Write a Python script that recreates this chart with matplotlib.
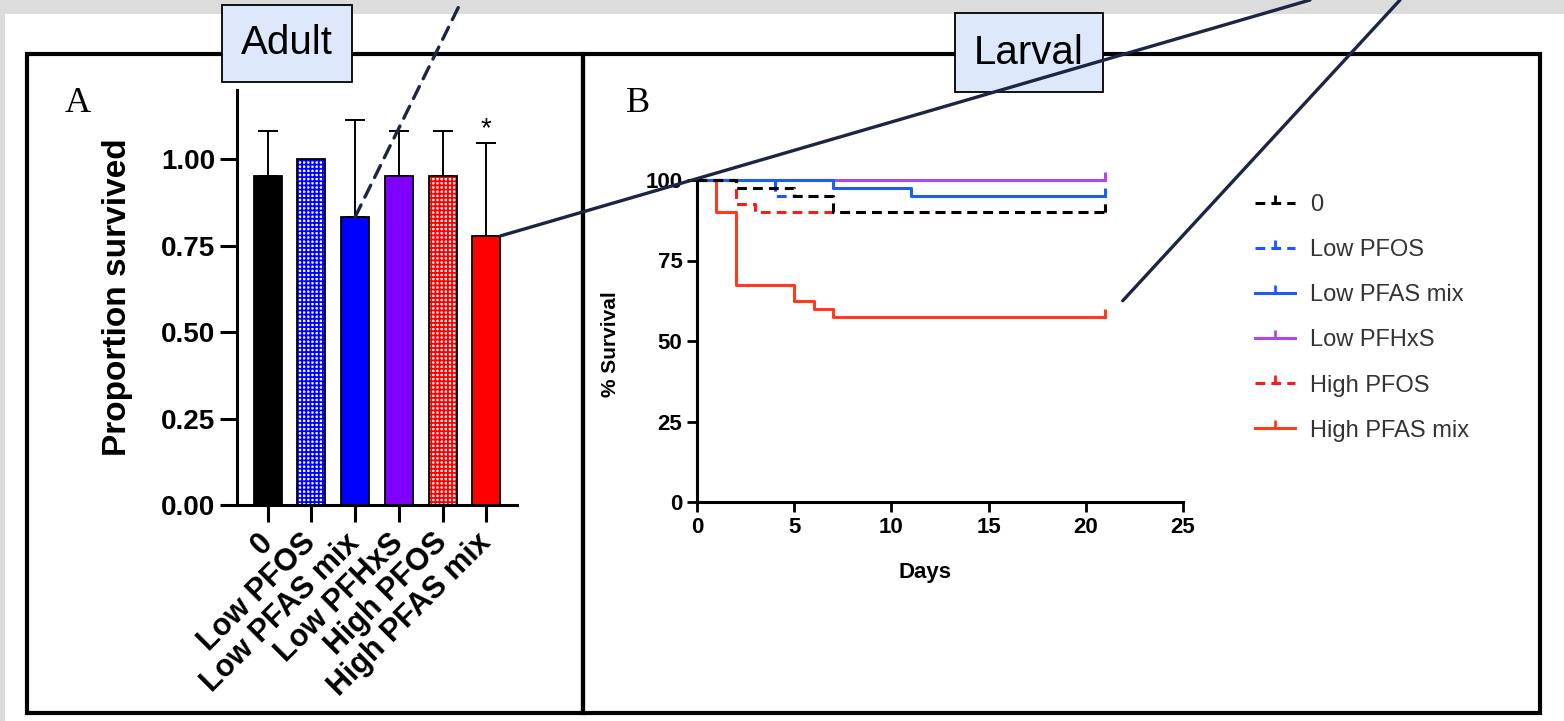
import matplotlib
matplotlib.use('Agg')
import matplotlib.pyplot as plt
from matplotlib.patches import Rectangle, ConnectionPatch
from matplotlib.lines import Line2D

# ---- adult survival (panel A) ----
groups = ['0', 'Low PFOS', 'Low PFAS mix', 'Low PFHxS', 'High PFOS', 'High PFAS mix']
adult_mean = [0.95, 1.00, 0.833, 0.95, 0.95, 0.778]
adult_err = [0.13, 0.0, 0.28, 0.13, 0.13, 0.27]
bar_colors = ['#000000', '#0000ff', '#0000ff', '#7f00ff', '#ff0000', '#ff0000']
bar_hatch = [None, '++++', None, None, '++++', None]
sig_marks = ['', '', '', '', '', '*']

# ---- larval survival curves (panel B) ----
t_zero = [0, 2, 5, 7, 21]
s_zero = [100, 97.5, 95, 90, 90]
t_low_pfos = [0, 4, 7]
s_low_pfos = [100, 95, 95]
t_low_mix = [0, 7, 11, 21]
s_low_mix = [100, 97.5, 95, 95]
t_low_pfhxs = [0, 21]
s_low_pfhxs = [100, 100]
t_high_pfos = [0, 2, 3, 21]
s_high_pfos = [100, 92.5, 90, 90]
t_high_mix = [0, 1, 2, 5, 6, 7, 21]
s_high_mix = [100, 90, 67.5, 62.5, 60, 57.5, 57.5]

W, H = 1564, 721
NARROW = ['Liberation Sans Narrow', 'Liberation Sans']
NAVY = '#1c2541'

plt.rcParams['font.family'] = 'Liberation Sans'
plt.rcParams['hatch.linewidth'] = 1.3


def fx(x):
    return x / W


def fy(y):
    return 1 - y / H


fig = plt.figure(figsize=(W / 100, H / 100), dpi=100)
fig.set_facecolor('#dcdcdc')
fig.add_artist(Rectangle((fx(5), 0), 1, fy(14), transform=fig.transFigure,
                         facecolor='white', edgecolor='none', zorder=-5))

# panel frames
for x0, x1 in [(27, 583), (583, 1540)]:
    fig.add_artist(Rectangle((fx(x0), fy(713)), fx(x1) - fx(x0), fy(54) - fy(713),
                             transform=fig.transFigure, fill=False,
                             edgecolor='black', lw=3, zorder=1))

# ---------------- panel A ----------------
axA = fig.add_axes([fx(237), fy(505), fx(517) - fx(237), fy(90) - fy(505)])
axA.patch.set_visible(False)
xs = range(len(groups))
for i in xs:
    if bar_hatch[i]:
        axA.bar(i, adult_mean[i], width=0.64, color='white', edgecolor=bar_colors[i],
                hatch=bar_hatch[i], lw=0, zorder=2)
        axA.bar(i, adult_mean[i], width=0.64, fill=False, edgecolor='black', lw=1.3, zorder=3)
    else:
        axA.bar(i, adult_mean[i], width=0.64, color=bar_colors[i], edgecolor='black',
                lw=1.3, zorder=2)
    if adult_err[i] > 0:
        axA.errorbar(i, adult_mean[i], yerr=[[0], [adult_err[i]]], fmt='none',
                     ecolor='black', elinewidth=1.4, capsize=7, capthick=1.4, zorder=1)
    if sig_marks[i]:
        axA.text(i, adult_mean[i] + adult_err[i], sig_marks[i], ha='center',
                 va='bottom', fontsize=20)

axA.set_xlim(-0.7, 5.7)
axA.set_ylim(0, 1.2)
axA.set_yticks([0, 0.25, 0.5, 0.75, 1.0])
axA.set_yticklabels(['0.00', '0.25', '0.50', '0.75', '1.00'], fontsize=20, fontweight='bold')
axA.set_xticks(list(xs))
axA.set_xticklabels(groups, rotation=45, ha='right', va='center', rotation_mode='anchor',
                    fontsize=22, fontweight='bold')
for sp in ['top', 'right']:
    axA.spines[sp].set_visible(False)
for sp in ['left', 'bottom']:
    axA.spines[sp].set_linewidth(2.2)
axA.tick_params(axis='both', length=12, width=2.2)
axA.tick_params(axis='x', pad=12)
axA.set_ylabel('Proportion survived', fontsize=24, fontweight='bold')
axA.yaxis.set_label_coords((133 - 237) / 280, 0.5)
fig.text(fx(78), fy(104), 'A', family='Liberation Serif', fontsize=26, ha='center', va='center')

# ---------------- panel B ----------------
axB = fig.add_axes([fx(697), fy(502), fx(1183) - fx(697), fy(180) - fy(502)])
axB.patch.set_visible(False)
curves = [
    (t_low_pfhxs, s_low_pfhxs, 'Low PFHxS', '#b048e0', '-'),
    (t_high_mix, s_high_mix, 'High PFAS mix', '#ff3a1c', '-'),
    (t_high_pfos, s_high_pfos, 'High PFOS', '#ff1a1a', (0, (3.2, 2))),
    (t_low_pfos, s_low_pfos, 'Low PFOS', '#1a55ff', (0, (3.2, 2))),
    (t_low_mix, s_low_mix, 'Low PFAS mix', '#1f5cf5', '-'),
    (t_zero, s_zero, '0', '#000000', (0, (3.2, 2))),
]
handles = {}
for t, s, name, col, ls in curves:
    axB.plot(t, s, drawstyle='steps-post', color=col, ls=ls, lw=2.2, clip_on=False)
    if t[-1] == 21:
        axB.plot([t[-1]], [s[-1]], marker=2, color=col, ms=6, mew=2.2, ls='none',
                 clip_on=False)
    handles[name] = Line2D([], [], color=col, ls=ls, lw=2.2, marker=2, ms=6, mew=2)

axB.set_xlim(0, 25)
axB.set_ylim(0, 100)
axB.set_xticks([0, 5, 10, 15, 20, 25])
axB.set_yticks([0, 25, 50, 75, 100])
for lab in axB.get_xticklabels() + axB.get_yticklabels():
    lab.set_family(NARROW)
    lab.set_fontweight('bold')
    lab.set_fontsize(16)
for sp in ['top', 'right']:
    axB.spines[sp].set_visible(False)
for sp in ['left', 'bottom']:
    axB.spines[sp].set_linewidth(2.2)
axB.tick_params(axis='both', length=7, width=2)
axB.set_ylabel('% Survival', fontsize=15, fontweight='bold')
axB.yaxis.set_label_coords((620 - 697) / 486, 0.49)
axB.set_xlabel('Days', fontsize=16, fontweight='bold')
axB.xaxis.set_label_coords((925 - 697) / 486, (502 - 562) / 322)
fig.text(fx(638), fy(104), 'B', family='Liberation Serif', fontsize=26, ha='center', va='center')

order = ['0', 'Low PFOS', 'Low PFAS mix', 'Low PFHxS', 'High PFOS', 'High PFAS mix']
leg = fig.legend([handles[k] for k in order], order, loc='upper left',
                 bbox_to_anchor=(fx(1255), fy(194)), bbox_transform=fig.transFigure,
                 frameon=False, fontsize=17, handlelength=1.7, handletextpad=0.65,
                 labelspacing=0.98, borderpad=0, borderaxespad=0, numpoints=1)
for txt in leg.get_texts():
    txt.set_color('#333333')

# stage labels
for (x0, y0, x1, y1), lab in [((222, 5, 352, 82), 'Adult'), ((955, 13, 1103, 92), 'Larval')]:
    fig.add_artist(Rectangle((fx(x0), fy(y1)), fx(x1) - fx(x0), fy(y0) - fy(y1),
                             transform=fig.transFigure, facecolor='#dde8fa',
                             edgecolor='black', lw=1.3, zorder=4))
    fig.text(fx((x0 + x1) / 2), fy((y0 + y1) / 2), lab, family=NARROW, fontsize=29,
             ha='center', va='center', zorder=5)

# connector lines
links = [
    ((2, adult_mean[2]), axA.transData, (fx(462), 1.0), '--'),
    ((5.32, adult_mean[5]), axA.transData, (fx(1310), 1.0), '-'),
    ((21.9, 62.5), axB.transData, (fx(1400), 1.0), '-'),
]
for xyA, trA, xyB, ls in links:
    con = ConnectionPatch(xyA=xyA, coordsA=trA, xyB=xyB, coordsB=fig.transFigure,
                          color=NAVY, lw=2.4, ls=ls, zorder=10, shrinkA=0, shrinkB=0)
    if ls == '--':
        con.set_linestyle((0, (4, 2.6)))
    fig.add_artist(con)

fig.savefig('out.png', dpi=100)
